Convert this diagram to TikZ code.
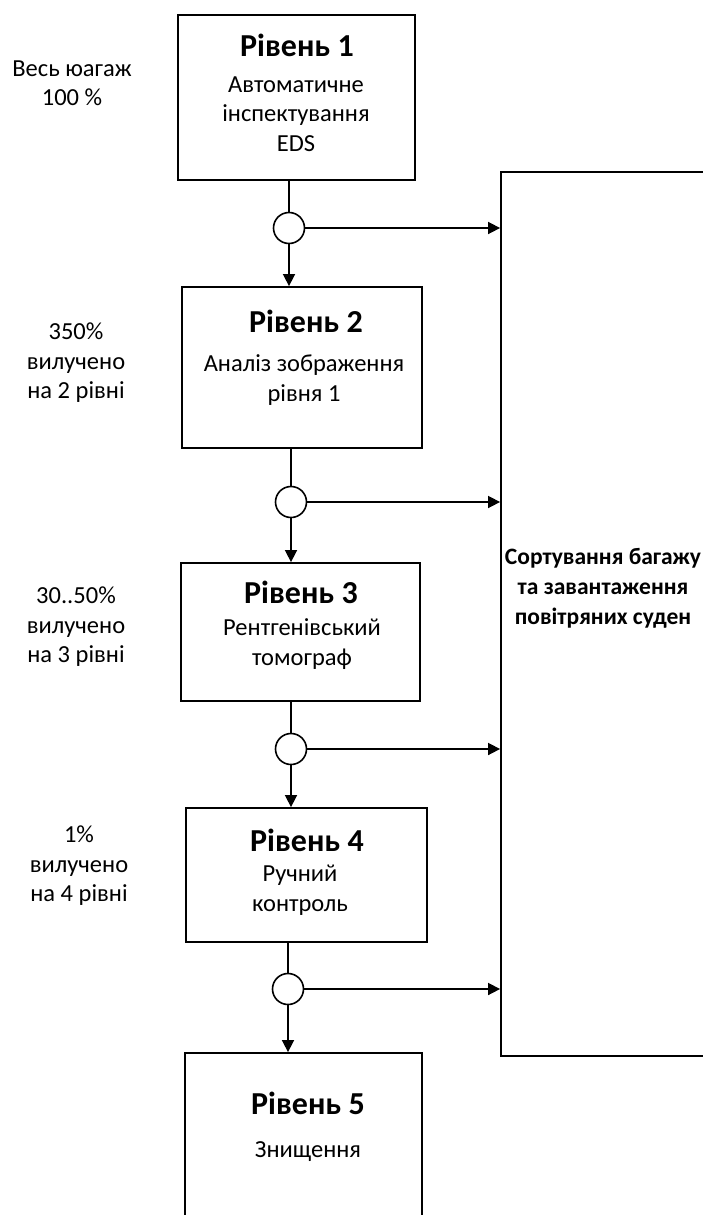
\documentclass[tikz,border=0pt]{standalone}
\usepackage{fontspec}
\setmainfont{Carlito}
\usetikzlibrary{arrows.meta}

\begin{document}
\begin{tikzpicture}[x=1pt,y=-1pt,
    box/.style={draw,line width=1.8pt,inner sep=0pt},
    hub/.style={draw,circle,line width=1.6pt,minimum size=31pt,inner sep=0pt,fill=white},
    wire/.style={line width=1.6pt},
    arr/.style={wire,-{Triangle[length=12pt,width=12pt]}},
    txt/.style={align=center,inner sep=0pt,font=\fontsize{24.5}{29.5}\selectfont},
    ttl/.style={inner sep=0pt,font=\fontsize{32}{36}\selectfont\bfseries}]
  \useasboundingbox (0,0) rectangle (703,1215);

  % levels
  \node[box,minimum width=237pt,minimum height=165pt] (lvl1) at (296.5,97.5) {};
  \node[box,minimum width=240pt,minimum height=161pt] (lvl2) at (302,367.5) {};
  \node[box,minimum width=239pt,minimum height=138pt] (lvl3) at (300.5,632) {};
  \node[box,minimum width=241pt,minimum height=134pt] (lvl4) at (306.5,875) {};
  \node[box,minimum width=237pt,minimum height=177pt] (lvl5) at (303.5,1141.5) {};
  \node[box,minimum width=204pt,minimum height=884pt] (sort) at (603,614) {};

  \node[ttl] (t1) at (297,45) {Рівень 1};
  \node[txt] (b1) at (296,114) {Автоматичне\\інспектування\\EDS};
  \node[ttl] (t2) at (306,321) {Рівень 2};
  \node[txt] (b2) at (304,380) {Аналіз зображення\\рівня 1};
  \node[ttl] (t3) at (301,592) {Рівень 3};
  \node[txt] (b3) at (302,644) {Рентгенівський\\томограф};
  \node[ttl] (t4) at (307,840) {Рівень 4};
  \node[txt] (b4) at (300,890) {Ручний\\контроль};
  \node[ttl] (t5) at (308,1103) {Рівень 5};
  \node[txt] (b5) at (308,1152) {Знищення};

  \node[txt,font=\fontsize{23.5}{30}\selectfont\bfseries] (s) at (603,588)
    {Сортування багажу\\та завантаження\\повітряних суден};

  % shares
  \node[txt] (p1) at (72,83) {Весь юагаж\\100 \%};
  \node[txt] (p2) at (76,363) {350\%\\вилучено\\на 2 рівні};
  \node[txt] (p3) at (76,627) {30..50\%\\вилучено\\на 3 рівні};
  \node[txt] (p4) at (79,866) {1\%\\вилучено\\на 4 рівні};

  % splits
  \node[hub] (c1) at (289,228) {};
  \node[hub] (c2) at (291,502) {};
  \node[hub] (c3) at (291,749) {};
  \node[hub] (c4) at (288,989) {};

  \draw[wire] (c1 |- lvl1.south) -- (c1.north);
  \draw[arr] (c1.south) -- (c1 |- lvl2.north);
  \draw[arr] (c1.east) -- (c1 -| sort.west);
  \draw[wire] (c2 |- lvl2.south) -- (c2.north);
  \draw[arr] (c2.south) -- (c2 |- lvl3.north);
  \draw[arr] (c2.east) -- (c2 -| sort.west);
  \draw[wire] (c3 |- lvl3.south) -- (c3.north);
  \draw[arr] (c3.south) -- (c3 |- lvl4.north);
  \draw[arr] (c3.east) -- (c3 -| sort.west);
  \draw[wire] (c4 |- lvl4.south) -- (c4.north);
  \draw[arr] (c4.south) -- (c4 |- lvl5.north);
  \draw[arr] (c4.east) -- (c4 -| sort.west);
\end{tikzpicture}
\end{document}
